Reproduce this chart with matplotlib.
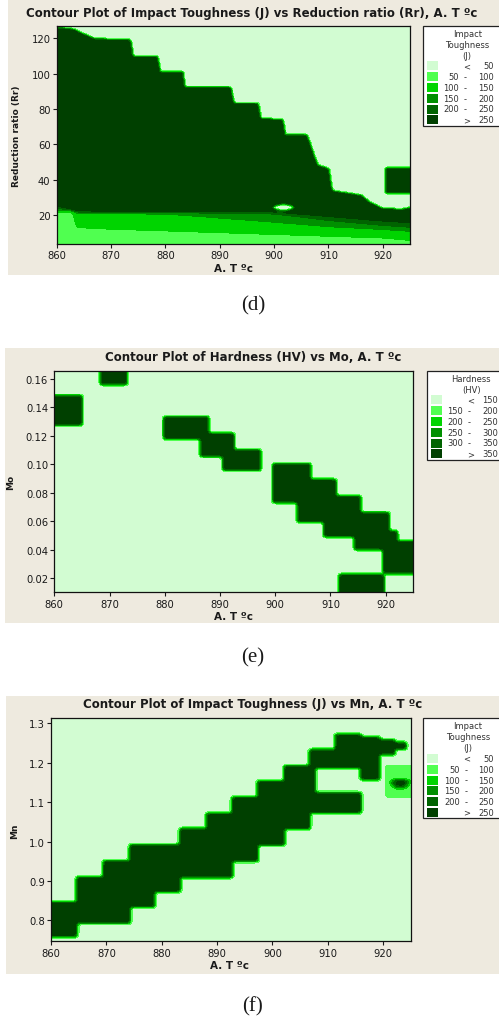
import numpy as np
import matplotlib
matplotlib.use("Agg")
import matplotlib.pyplot as plt
from matplotlib.patches import Rectangle

W, H = 499, 1020
BEIGE = "#eeeadf"
INK = "#1a1a1a"
GREENS = ["#d2fcd2", "#50ff50", "#00d400", "#009000", "#006400", "#004000"]

# (d) Impact toughness vs reduction ratio: top edge of the >250 zone
D_TOP_X = [860, 863, 867, 873.5, 874, 878.5, 879, 883.2, 883.5, 892, 892.5, 897, 897.5,
           901.5, 902, 906, 907, 908, 910, 910.6, 916, 917.5, 920, 923.5, 925]
D_TOP_Y = [126, 125, 119.5, 119, 109.5, 109.3, 101, 101, 92.3, 92, 83.2, 83, 74.3,
           74, 65.3, 65, 56, 48, 46, 33.5, 31, 27, 23.5, 23, 24]
# lower bands: y where the surface crosses 100 / 150 / 200 / 250 J
D_BAND_X = [860, 863.2, 863.6, 870, 880, 890, 900, 910, 920, 925]
D_Y100 = [22.4, 22.0, 13.0, 12.0, 11.0, 10.0, 9.0, 8.0, 7.0, 5.5]
D_Y150 = [22.8, 22.3, 21.5, 21.5, 21.2, 18.5, 16.0, 13.5, 12.0, 11.0]
D_Y200 = [23.4, 22.6, 21.8, 21.8, 21.6, 21.4, 21.0, 17.0, 14.0, 13.0]
D_Y250 = [25.5, 23.0, 22.2, 22.0, 22.0, 22.0, 21.8, 19.5, 17.0, 16.0]
D_HOLE = (901.7, 24.3, 2.0, 1.9)          # low pocket: centre x, y, half widths
D_ISLAND = (920.6, 927.0, 32.5, 46.5)     # high pocket: x0, x1, y0, y1
D_LEVELS = [0, 50, 100, 150, 200, 250, 400]

# (e) Hardness vs Mo: cells above 350 HV
E_X0 = [879.7, 886.3, 890.3, 899.3, 903.9, 908.7, 914.1, 919.3, 922.0, 911.4, 857.0, 868.2, 857.0]
E_X1 = [887.8, 892.4, 897.1, 906.3, 910.8, 915.3, 920.5, 922.0, 927.0, 919.5, 864.8, 873.0, 862.5]
E_Y0 = [0.1170, 0.1049, 0.0950, 0.0725, 0.0591, 0.0486, 0.0392, 0.0228, 0.0228, 0.0000,
        0.1270, 0.1553, 0.1660]
E_Y1 = [0.1330, 0.1213, 0.1096, 0.0995, 0.0884, 0.0767, 0.0650, 0.0521, 0.0450, 0.0216,
        0.1475, 0.1800, 0.1800]
E_LEVELS = [0, 150, 200, 250, 300, 350, 500]

# (f) Impact toughness vs Mn: cells above 250 J
F_X0 = [857.0, 864.5, 869.2, 874.0, 878.5, 883.2, 887.9, 892.6, 897.2, 901.9, 906.6, 906.6,
        906.6, 911.3, 915.8, 919.1, 922.0]
F_X1 = [864.5, 869.2, 874.0, 878.5, 883.2, 887.9, 892.6, 897.2, 901.9, 906.6, 907.6, 915.8,
        911.3, 915.8, 919.1, 922.0, 923.9]
F_Y0 = [0.757, 0.790, 0.790, 0.832, 0.870, 0.908, 0.908, 0.949, 0.989, 1.029, 1.071, 1.071,
        1.184, 1.184, 1.156, 1.218, 1.232]
F_Y1 = [0.843, 0.907, 0.949, 0.989, 0.989, 1.029, 1.069, 1.110, 1.150, 1.190, 1.230, 1.120,
        1.230, 1.270, 1.262, 1.255, 1.248]
F_PATCH = (920.3, 927.0, 1.110, 1.192)    # 50-100 J square
F_PEAK = (922.9, 1.150, 1.9, 0.02)        # small peak inside it
F_LEVELS = [0, 50, 100, 150, 200, 250, 400]

fig = plt.figure(figsize=(W / 100, H / 100), dpi=100)
fig.patch.set_facecolor("white")


def px_box(x, y, w, h):
    return (x / W, 1 - (y + h) / H), w / W, h / H


def add_axes_px(x0, y0, x1, y1):
    return fig.add_axes([x0 / W, 1 - y1 / H, (x1 - x0) / W, (y1 - y0) / H])


def text_px(x, y, s, **kw):
    kw.setdefault("color", INK)
    fig.text(x / W, 1 - y / H, s, **kw)


def smooth(z, k=4, passes=2):
    ker = np.ones(k) / k
    lo, hi = k // 2, k - 1 - k // 2
    for _ in range(passes):
        for axis in (0, 1):
            z = np.apply_along_axis(
                lambda v: np.convolve(np.pad(v, (lo, hi), mode="edge"), ker, mode="valid"),
                axis, z)
    return z


def paint(X, Y, z, x0s, x1s, y0s, y1s, value):
    for a, b, c, d in zip(x0s, x1s, y0s, y1s):
        z[(X >= a) & (X <= b) & (Y >= c) & (Y <= d)] = value
    return z


def frame(x0, y0, y1):
    r = Rectangle(*px_box(x0, y0, W - x0, y1 - y0), transform=fig.transFigure,
                  facecolor=BEIGE, edgecolor="none", zorder=0)
    fig.add_artist(r)


def style(ax, ylim, yticks, fmt):
    ax.set_xlim(860, 925)
    ax.set_ylim(*ylim)
    ax.set_xticks(range(860, 921, 10))
    ax.set_yticks(yticks)
    ax.set_yticklabels([fmt.format(v) for v in yticks])
    ax.tick_params(direction="out", length=3, width=0.8, labelsize=7.2, pad=1.5,
                   colors=INK)
    for s in ax.spines.values():
        s.set_linewidth(0.9)
        s.set_color("#111111")


def legend(x0, y0, title, edges):
    n = len(title)
    r0 = y0 + 7.6 + 11 * n - 0.5
    bottom = r0 + 10.8 * 5 + 6
    box = Rectangle(*px_box(x0, y0, W + 2 - x0, bottom - y0), transform=fig.transFigure,
                    facecolor="white", edgecolor="#222222", lw=0.9, zorder=3)
    fig.add_artist(box)
    for i, t in enumerate(title):
        text_px(x0 + 44.5, y0 + 7.6 + 11 * i, t, fontsize=6, ha="center", va="center",
                color="#333333", zorder=4)
    for i in range(6):
        r = r0 + 10.8 * i
        sw = Rectangle(*px_box(x0 + 4, r - 4.5, 11, 9), transform=fig.transFigure,
                       facecolor=GREENS[i], edgecolor="none", zorder=4)
        fig.add_artist(sw)
        kw = dict(fontsize=6, va="center", color="#333333", zorder=4)
        if i == 0:
            text_px(x0 + 43.5, r, "<", ha="center", **kw)
            text_px(x0 + 71, r, str(edges[0]), ha="right", **kw)
        elif i == 5:
            text_px(x0 + 43.5, r, ">", ha="center", **kw)
            text_px(x0 + 71, r, str(edges[-1]), ha="right", **kw)
        else:
            text_px(x0 + 36.5, r, str(edges[i - 1]), ha="right", **kw)
            text_px(x0 + 42.5, r, "-", ha="center", **kw)
            text_px(x0 + 71, r, str(edges[i]), ha="right", **kw)


title_kw = dict(fontsize=8.5, fontweight="bold", ha="center", va="center")
xlab_kw = dict(fontsize=7.5, fontweight="bold", ha="center", va="center")
ylab_kw = dict(fontsize=6.5, fontweight="bold", ha="center", va="center", rotation=90)
cap_kw = dict(fontsize=15, family="Liberation Serif", ha="center", va="center")

# ---------------- (d)
frame(8, 0, 276)
xs = np.linspace(860, 925, 360)
ys = np.linspace(3.0, 127.5, 260)
X, Y = np.meshgrid(xs, ys)
top = np.interp(xs, D_TOP_X, D_TOP_Y)
bands = [np.interp(xs, D_BAND_X, b) for b in (D_Y100, D_Y150, D_Y200, D_Y250)]
zd = np.empty_like(X)
for j in range(xs.size):
    knots = [ys[0]] + [b[j] for b in bands] + [bands[-1][j] + 0.4]
    zd[:, j] = np.interp(ys, knots, [60, 100, 150, 200, 250, 300])
zd[Y > top[None, :]] = 20
hx, hy, hw, hh = D_HOLE
zd[((X - hx) / hw) ** 2 + ((Y - hy) / hh) ** 2 < 1] = 20
zd = paint(X, Y, zd, [D_ISLAND[0]], [D_ISLAND[1]], [D_ISLAND[2]], [D_ISLAND[3]], 300)
zd = smooth(zd, k=3, passes=2)

ax = add_axes_px(56.7, 27.3, 410, 245)
ax.contourf(xs, ys, zd, levels=D_LEVELS, colors=GREENS)
style(ax, (3.6, 126.8), [20, 40, 60, 80, 100, 120], "{:d}")
text_px(252, 13.3, "Contour Plot of Impact Toughness (J) vs Reduction ratio (Rr), A. T ºc",
        **title_kw)
text_px(233, 269, "A. T ºc", **xlab_kw)
text_px(17, 136, "Reduction ratio (Rr)", **ylab_kw)
legend(422.7, 26.7, ["Impact", "Toughness", "(J)"], D_LEVELS[1:-1])
text_px(253, 306, "(d)", **cap_kw)

# ---------------- (e)
frame(5, 348.5, 624)
xs = np.linspace(857, 927, 380)
ys = np.linspace(0.004, 0.172, 260)
X, Y = np.meshgrid(xs, ys)
ze = np.full_like(X, 100.0)
ze = paint(X, Y, ze, E_X0, E_X1, E_Y0, E_Y1, 400)
ze = smooth(ze)

ax = add_axes_px(54.3, 372.3, 413.3, 593.3)
ax.contourf(xs, ys, ze, levels=E_LEVELS, colors=GREENS)
style(ax, (0.0099, 0.1654), [0.02, 0.04, 0.06, 0.08, 0.10, 0.12, 0.14, 0.16], "{:.2f}")
text_px(253, 357.3, "Contour Plot of Hardness (HV) vs Mo, A. T ºc", **title_kw)
text_px(233, 617, "A. T ºc", **xlab_kw)
text_px(11, 482, "Mo", **ylab_kw)
legend(426.7, 371.7, ["Hardness", "(HV)"], E_LEVELS[1:-1])
text_px(253, 658, "(e)", **cap_kw)

# ---------------- (f)
frame(6, 696.7, 975)
xs = np.linspace(857, 927, 380)
ys = np.linspace(0.735, 1.325, 260)
X, Y = np.meshgrid(xs, ys)
zf = np.full_like(X, 20.0)
zf = paint(X, Y, zf, [F_PATCH[0]], [F_PATCH[1]], [F_PATCH[2]], [F_PATCH[3]], 75)
zf = paint(X, Y, zf, F_X0, F_X1, F_Y0, F_Y1, 300)
px, py, prx, pry = F_PEAK
r2 = ((X - px) / prx) ** 2 + ((Y - py) / pry) ** 2
peak = np.where((r2 < 1) & (Y <= py + 0.003), 75 + 240 * (1 - r2), 0)
zf = np.maximum(zf, peak)
zf = smooth(zf)

ax = add_axes_px(51, 719.3, 410.7, 942.3)
ax.contourf(xs, ys, zf, levels=F_LEVELS, colors=GREENS)
style(ax, (0.7467, 1.3127), [0.8, 0.9, 1.0, 1.1, 1.2, 1.3], "{:.1f}")
text_px(253, 705, "Contour Plot of Impact Toughness (J) vs Mn, A. T ºc", **title_kw)
text_px(230, 966, "A. T ºc", **xlab_kw)
text_px(15, 831, "Mn", **ylab_kw)
legend(423.3, 719.3, ["Impact", "Toughness", "(J)"], F_LEVELS[1:-1])
text_px(253, 1006.7, "(f)", **cap_kw)

fig.savefig("out.png", dpi=100, facecolor="white")
